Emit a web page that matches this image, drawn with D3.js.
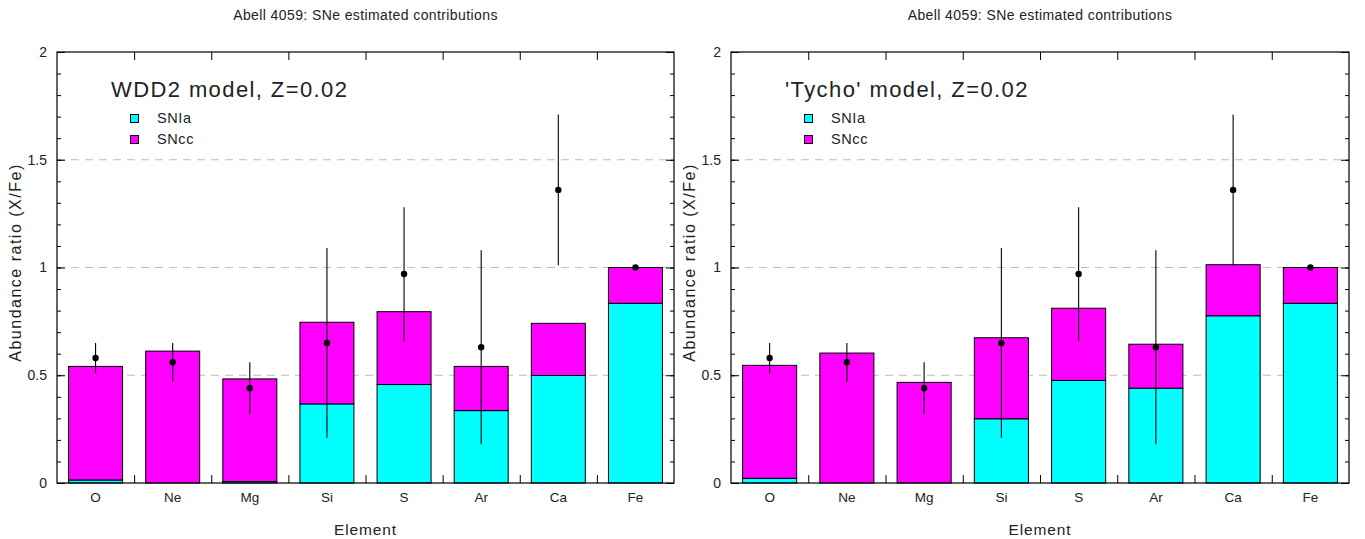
<!DOCTYPE html>
<html>
<head>
<meta charset="utf-8">
<script src="https://cdn.jsdelivr.net/npm/d3@7"></script>
<style>
  html, body { margin: 0; padding: 0; background: #fff; }
  svg { display: block; }
  text { font-family: "Liberation Sans", Arial, sans-serif; fill: #222; }
</style>
</head>
<body>
<svg id="chart" width="1365" height="539"></svg>
<script>
// ---------- data ----------
const elements = ["O", "Ne", "Mg", "Si", "S", "Ar", "Ca", "Fe"];
const obsValue = [0.58, 0.56, 0.44, 0.65, 0.97, 0.63, 1.36, 1.00];
const obsLow   = [0.51, 0.47, 0.32, 0.21, 0.66, 0.18, 1.01, 0.995];
const obsHigh  = [0.65, 0.65, 0.56, 1.09, 1.28, 1.08, 1.71, 1.005];

const wdd2SNIa  = [0.014, 0.0, 0.007, 0.367, 0.457, 0.336, 0.499, 0.834];
const wdd2SNcc  = [0.527, 0.612, 0.476, 0.379, 0.338, 0.205, 0.242, 0.166];
const tychoSNIa = [0.022, 0.0, 0.0, 0.298, 0.476, 0.440, 0.776, 0.834];
const tychoSNcc = [0.524, 0.603, 0.467, 0.376, 0.335, 0.204, 0.237, 0.166];

const chartTitle = "Abell 4059: SNe estimated contributions";
const modelLabels = ["WDD2 model, Z=0.02", "'Tycho' model, Z=0.02"];
const legendLabels = ["SNIa", "SNcc"];
const yMajorTicks = [0, 0.5, 1, 1.5, 2];
const yTickLabels = ["0", "0.5", "1", "1.5", "2"];
const gridValues = [0.5, 1, 1.5];
const xAxisLabel = "Element";
const yAxisLabel = "Abundance ratio (X/Fe)";

const colors = { SNIa: "#00ffff", SNcc: "#ff00ff" };

// ---------- layout ----------
const svg = d3.select("#chart");
const plotTop = 52, plotBottom = 483;
const panels = [
  { x0: 57,  x1: 674,  snia: wdd2SNIa,  sncc: wdd2SNcc,  label: modelLabels[0] },
  { x0: 731, x1: 1349, snia: tychoSNIa, sncc: tychoSNcc, label: modelLabels[1] }
];

panels.forEach(p => {
  const g = svg.append("g");
  const x = d3.scaleBand().domain(elements).range([p.x0, p.x1])
    .paddingInner(0.3).paddingOuter(0.15);
  const xl = d3.scaleLinear().domain([0, elements.length]).range([p.x0, p.x1]);
  const y = d3.scaleLinear().domain([0, 2]).range([plotBottom, plotTop]);

  // grid
  g.append("g").selectAll("line").data(gridValues).join("line")
    .attr("x1", p.x0).attr("x2", p.x1)
    .attr("y1", d => y(d)).attr("y2", d => y(d))
    .attr("stroke", "#bdbdbd").attr("stroke-width", 1.2)
    .attr("stroke-dasharray", "8,6");

  // stacked bars
  const stackData = elements.map((e, i) => ({ el: e, SNIa: p.snia[i], SNcc: p.sncc[i] }));
  const series = d3.stack().keys(["SNIa", "SNcc"])(stackData);
  g.append("g").selectAll("g").data(series).join("g")
    .attr("fill", d => colors[d.key])
    .selectAll("rect").data(d => d).join("rect")
    .attr("x", d => x(d.data.el))
    .attr("width", x.bandwidth())
    .attr("y", d => y(d[1]))
    .attr("height", d => Math.max(0, y(d[0]) - y(d[1])))
    .attr("stroke", "#000").attr("stroke-width", 1);

  // error bars
  const eg = g.append("g");
  elements.forEach((e, i) => {
    const cx = x(e) + x.bandwidth() / 2;
    eg.append("line").attr("x1", cx).attr("x2", cx)
      .attr("y1", y(obsLow[i])).attr("y2", y(obsHigh[i]))
      .attr("stroke", "#000").attr("stroke-width", 1.1);
    eg.append("circle").attr("cx", cx).attr("cy", y(obsValue[i])).attr("r", 3.2)
      .attr("fill", "#000");
  });

  // axes
  const axStyle = (fs) => sel => {
    sel.select(".domain").remove();
    sel.selectAll("line").attr("stroke", "#000");
    sel.selectAll("text").attr("font-family", "Liberation Sans, Arial, sans-serif")
      .attr("font-size", fs).attr("fill", "#222");
  };
  const minorVals = d3.range(1, 20).map(v => v / 10);
  g.append("g").attr("transform", `translate(${p.x0},0)`)
    .call(d3.axisLeft(y).tickValues(yMajorTicks).tickSize(-8).tickPadding(10)
      .tickFormat((d, i) => yTickLabels[i]))
    .call(axStyle(14));
  g.append("g").attr("transform", `translate(${p.x0},0)`)
    .call(d3.axisLeft(y).tickValues(minorVals).tickSize(-4).tickFormat(""))
    .call(axStyle(13));
  g.append("g").attr("transform", `translate(${p.x1},0)`)
    .call(d3.axisRight(y).tickValues(yMajorTicks).tickSize(-8).tickFormat(""))
    .call(axStyle(13));
  g.append("g").attr("transform", `translate(${p.x1},0)`)
    .call(d3.axisRight(y).tickValues(minorVals).tickSize(-4).tickFormat(""))
    .call(axStyle(13));
  const bounds = d3.range(1, elements.length);
  g.append("g").attr("transform", `translate(0,${plotTop})`)
    .call(d3.axisTop(xl).tickValues(bounds).tickSize(-8).tickFormat(""))
    .call(axStyle(13));
  g.append("g").attr("transform", `translate(0,${plotBottom})`)
    .call(d3.axisBottom(xl).tickValues(bounds).tickSize(-8).tickFormat(""))
    .call(axStyle(13));
  g.append("g").attr("transform", `translate(0,${plotBottom})`)
    .call(d3.axisBottom(x).tickSize(0).tickPadding(9))
    .call(axStyle(13.5));

  // frame
  g.append("rect").attr("x", p.x0).attr("y", plotTop)
    .attr("width", p.x1 - p.x0).attr("height", plotBottom - plotTop)
    .attr("fill", "none").attr("stroke", "#000").attr("stroke-width", 1.2);

  const cxMid = (p.x0 + p.x1) / 2;
  g.append("text").attr("x", cxMid).attr("y", 20).attr("text-anchor", "middle")
    .attr("font-size", 14).attr("letter-spacing", 0.4).text(chartTitle);
  g.append("text").attr("x", cxMid).attr("y", 535).attr("text-anchor", "middle")
    .attr("font-size", 15.5).attr("letter-spacing", 0.9).text(xAxisLabel);
  g.append("text").attr("transform", `translate(${p.x0 - 36},${(plotTop + plotBottom) / 2 - 5}) rotate(-90)`)
    .attr("text-anchor", "middle").attr("font-size", 16).attr("letter-spacing", 1.5)
    .text(yAxisLabel);

  g.append("text").attr("x", p.x0 + 54).attr("y", 97)
    .attr("font-size", 22).attr("letter-spacing", 1.4).text(p.label);

  const lg = g.append("g");
  ["SNIa", "SNcc"].forEach((k, i) => {
    lg.append("rect").attr("x", p.x0 + 73.5).attr("y", 114.5 + i * 21)
      .attr("width", 8).attr("height", 8)
      .attr("fill", colors[k]).attr("stroke", "#000").attr("stroke-width", 1);
    lg.append("text").attr("x", p.x0 + 100).attr("y", 123 + i * 21)
      .attr("font-size", 14.5).attr("letter-spacing", 0.6).text(legendLabels[i]);
  });
});
</script>
</body>
</html>
